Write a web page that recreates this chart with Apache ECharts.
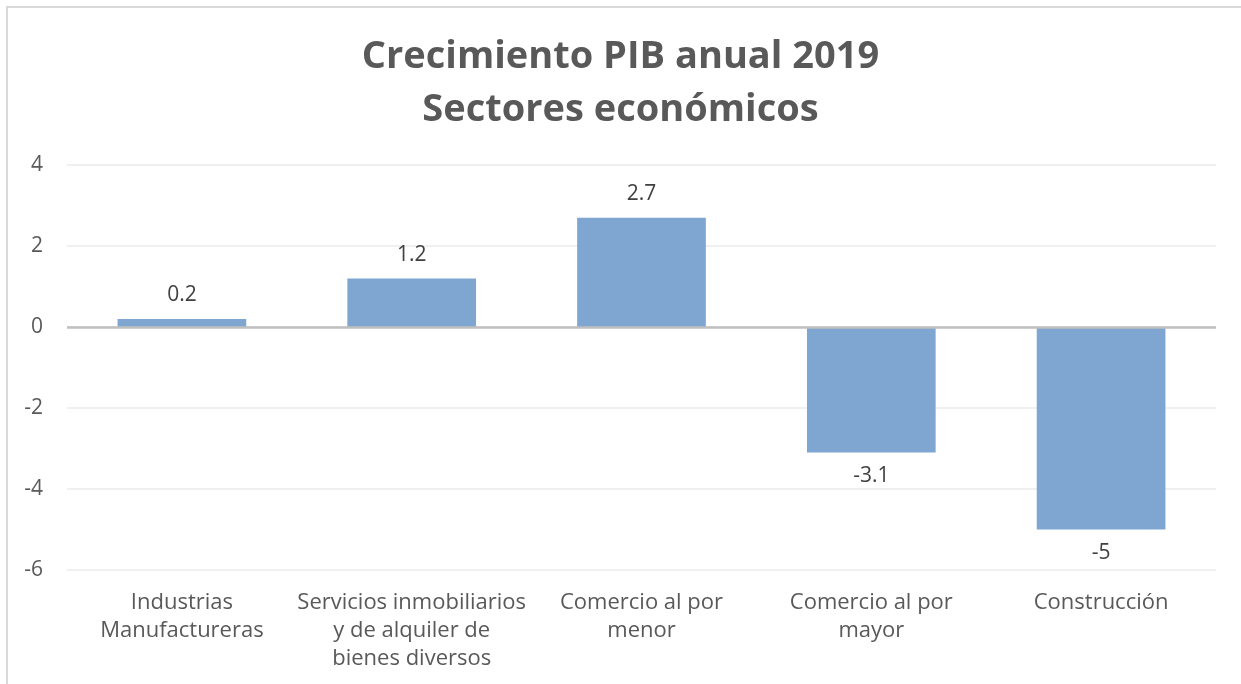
<!DOCTYPE html>
<html>
<head>
<meta charset="utf-8">
<script src="https://cdn.jsdelivr.net/npm/echarts@6/dist/echarts.min.js"></script>
<style>
html,body{margin:0;padding:0;background:#fff;}
#chart{width:1241px;height:684px;}
</style>
</head>
<body>
<div id="chart"></div>
<script>
const titleText = 'Crecimiento PIB anual 2019\nSectores económicos';
const categories = [
  'Industrias\nManufactureras',
  'Servicios inmobiliarios\ny de alquiler de\nbienes diversos',
  'Comercio al por\nmenor',
  'Comercio al por\nmayor',
  'Construcción'
];
const values = [0.2, 1.2, 2.7, -3.1, -5];
const yTicks = { min: -6, max: 4, interval: 2 };

const font = '"Open Sans", "Noto Sans", sans-serif';
const chart = echarts.init(document.getElementById('chart'), null, { renderer: 'canvas' });
chart.setOption({
  backgroundColor: '#ffffff',
  animation: false,
  graphic: [{
    type: 'polyline',
    shape: { points: [[7, 800], [7, 7], [1400, 7]] },
    style: { fill: 'none', stroke: '#D9D9D9', lineWidth: 2 },
    silent: true, z: -1
  }],
  title: {
    text: titleText,
    left: 'center',
    top: 26,
    textStyle: {
      fontFamily: font, fontWeight: 'bold', fontSize: 38, lineHeight: 53, color: '#595959'
    }
  },
  grid: { left: 67, right: 25, top: 165, bottom: 114, containLabel: false },
  xAxis: {
    type: 'category',
    data: categories,
    axisLine: { show: false, onZero: false },
    axisTick: { show: false },
    axisLabel: {
      interval: 0, margin: 19, fontFamily: font, fontSize: 22, lineHeight: 28,
      color: '#595959', align: 'center'
    }
  },
  yAxis: {
    type: 'value',
    min: yTicks.min, max: yTicks.max, interval: yTicks.interval,
    axisLine: { show: false },
    axisTick: { show: false },
    splitLine: { lineStyle: { color: '#EBEBEB', width: 1.5 } },
    axisLabel: { margin: 24, fontFamily: font, fontSize: 21, color: '#595959' }
  },
  series: [{
    type: 'bar',
    data: values.map(v => ({
      value: v,
      label: { position: v >= 0 ? 'top' : 'bottom' }
    })),
    barWidth: '56%',
    itemStyle: { color: '#7FA6D1' },
    label: {
      show: true, distance: 13, fontFamily: font, fontSize: 21, color: '#404040'
    },
    markLine: {
      silent: true, symbol: 'none',
      label: { show: false },
      lineStyle: { color: '#BFBFBF', width: 2.5, type: 'solid' },
      data: [{ yAxis: 0 }]
    }
  }]
});
</script>
</body>
</html>
